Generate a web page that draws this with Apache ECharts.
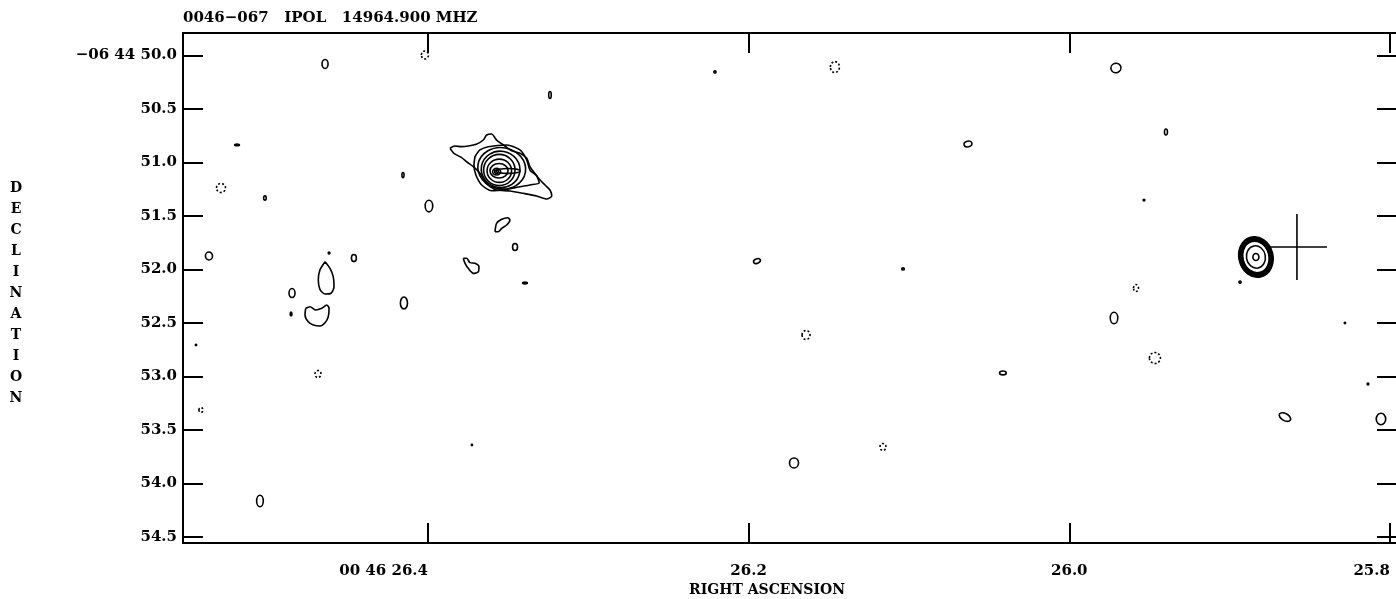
<!DOCTYPE html>
<html>
<head>
<meta charset="utf-8">
<title>0046-067 IPOL 14964.900 MHZ</title>
<script src="https://cdn.jsdelivr.net/npm/echarts@6/dist/echarts.min.js"></script>
<style>
  html, body { margin: 0; padding: 0; background: #fff; }
  #map { width: 1396px; height: 599px; }
</style>
</head>
<body>
<div id="map"></div>
<script>
// Map frame: RA seconds of 00h46m, Dec arcseconds of -06d44m
const raRange = [25.7956, 26.5528];
const decRange = [49.7897, 54.5561];

const raTicks = [26.4, 26.2, 26.0, 25.8];
const raTickLabels = ['00 46 26.4', '26.2', '26.0', '25.8'];
const decTicks = [50.0, 50.5, 51.0, 51.5, 52.0, 52.5, 53.0, 53.5, 54.0, 54.5];
const decTickLabels = ['\u221206 44 50.0', '50.5', '51.0', '51.5', '52.0', '52.5', '53.0', '53.5', '54.0', '54.5'];

// Small closed contours: [RA s, Dec ", semi-axis E-W ", semi-axis N-S ", tilt deg]
const positiveContours = [
  [26.4642, 50.079, 0.028, 0.042, 0],
  [26.3239, 50.369, 0.012, 0.032, 0],
  [26.2210, 50.154, 0.010, 0.010, 0],
  [25.9709, 50.117, 0.047, 0.044, 20],
  [25.9397, 50.715, 0.014, 0.028, 0],
  [26.0632, 50.827, 0.037, 0.026, 15],
  [25.9534, 51.351, 0.008, 0.008, 0],
  [26.1948, 51.921, 0.033, 0.021, 20],
  [26.1037, 51.995, 0.012, 0.010, 0],
  [25.9721, 52.453, 0.035, 0.054, 0],
  [26.0414, 52.967, 0.031, 0.018, 0],
  [25.8935, 52.117, 0.010, 0.010, 0],
  [25.8281, 52.500, 0.006, 0.006, 0],
  [25.8137, 53.070, 0.008, 0.008, 0],
  [25.8056, 53.397, 0.044, 0.054, 0],
  [25.8655, 53.379, 0.058, 0.033, -30],
  [26.1717, 53.808, 0.042, 0.047, 0],
  [26.3726, 53.640, 0.005, 0.005, 0],
  [26.5048, 54.164, 0.031, 0.054, 0],
  [26.5447, 52.706, 0.006, 0.006, 0],
  [26.5191, 50.836, 0.022, 0.008, 0],
  [26.5017, 51.332, 0.012, 0.020, 0],
  [26.4156, 51.117, 0.010, 0.024, 0],
  [26.3994, 51.407, 0.035, 0.054, 0],
  [26.3457, 51.790, 0.023, 0.033, 0],
  [26.3395, 52.126, 0.022, 0.008, 0],
  [26.5366, 51.874, 0.033, 0.037, 0],
  [26.4617, 51.846, 0.008, 0.008, 0],
  [26.4462, 51.893, 0.023, 0.033, 0],
  [26.4848, 52.220, 0.028, 0.042, 0],
  [26.4854, 52.416, 0.008, 0.019, 0],
  [26.4150, 52.313, 0.033, 0.056, 0]
];

const negativeContours = [
  [26.4019, 49.995, 0.033, 0.037, 0],
  [26.1462, 50.108, 0.042, 0.051, 0],
  [26.5291, 51.238, 0.042, 0.042, 0],
  [26.1642, 52.612, 0.037, 0.042, 0],
  [25.9584, 52.173, 0.023, 0.033, 0],
  [25.9466, 52.827, 0.051, 0.051, 0],
  [26.1162, 53.659, 0.028, 0.033, 0],
  [26.4686, 52.977, 0.028, 0.033, 0],
  [26.5416, 53.313, 0.019, 0.023, 0]
];

// Inner levels of the extended source
const mainSourceRings = [
  [26.3540, 51.054, 0.223, 0.193, -10],
  [26.3547, 51.064, 0.180, 0.170, -10],
  [26.3555, 51.070, 0.146, 0.146, 0],
  [26.3555, 51.077, 0.114, 0.109, 0],
  [26.3557, 51.077, 0.084, 0.068, 0],
  [26.3501, 51.079, 0.112, 0.023, 0],
  [26.3572, 51.086, 0.037, 0.031, 0],
  [26.3572, 51.086, 0.018, 0.015, 0]
];

// Compact source levels
const compactSourceRings = [
  [25.8836, 51.883, 0.158, 0.191, 15],
  [25.8836, 51.883, 0.153, 0.186, 15],
  [25.8836, 51.883, 0.149, 0.181, 15],
  [25.8836, 51.883, 0.144, 0.176, 15],
  [25.8836, 51.883, 0.140, 0.172, 15],
  [25.8836, 51.883, 0.135, 0.167, 15],
  [25.8836, 51.883, 0.130, 0.163, 15],
  [25.8836, 51.883, 0.125, 0.156, 15],
  [25.8836, 51.883, 0.121, 0.149, 15],
  [25.8836, 51.883, 0.088, 0.105, 10],
  [25.8836, 51.883, 0.028, 0.033, 0]
];

// Irregular contour outlines: [RA s, Dec "]
const mainSourceOuter = [
  [26.3863, 50.867], [26.3838, 50.914], [26.3790, 50.955], [26.3759, 50.993],
  [26.3717, 51.039], [26.3676, 51.101], [26.3644, 51.179], [26.3613, 51.226],
  [26.3572, 51.257], [26.3489, 51.266], [26.3406, 51.288], [26.3322, 51.313],
  [26.3260, 51.341], [26.3228, 51.313], [26.3239, 51.257], [26.3270, 51.210],
  [26.3301, 51.164], [26.3326, 51.117], [26.3364, 51.039], [26.3384, 50.961],
  [26.3426, 50.914], [26.3478, 50.890], [26.3520, 50.846], [26.3572, 50.790],
  [26.3603, 50.734], [26.3634, 50.743], [26.3655, 50.790], [26.3696, 50.827],
  [26.3749, 50.846], [26.3790, 50.852], [26.3832, 50.846]
];
const mainSourceSecond = [
  [26.3707, 50.946], [26.3676, 50.883], [26.3624, 50.852], [26.3509, 50.836],
  [26.3426, 50.883], [26.3384, 50.977], [26.3364, 51.070], [26.3322, 51.126],
  [26.3306, 51.189], [26.3364, 51.210], [26.3426, 51.226], [26.3509, 51.250],
  [26.3603, 51.264], [26.3665, 51.210], [26.3701, 51.117], [26.3713, 51.023]
];
const teardropContour = [
  [26.4642, 51.927], [26.4674, 52.005], [26.4684, 52.098], [26.4674, 52.185],
  [26.4642, 52.229], [26.4605, 52.222], [26.4586, 52.161], [26.4591, 52.067],
  [26.4611, 51.989]
];
const heartContour = [
  [26.4763, 52.363], [26.4736, 52.348], [26.4700, 52.379], [26.4663, 52.363],
  [26.4632, 52.332], [26.4617, 52.363], [26.4622, 52.441], [26.4642, 52.497],
  [26.4674, 52.528], [26.4715, 52.519], [26.4747, 52.488], [26.4767, 52.425]
];
const southBlobContour = [
  [26.3582, 51.647], [26.3572, 51.568], [26.3540, 51.531], [26.3503, 51.516],
  [26.3489, 51.537], [26.3509, 51.584], [26.3540, 51.615], [26.3562, 51.647]
];
const beanContour = [
  [26.3780, 51.895], [26.3769, 51.942], [26.3749, 51.989], [26.3717, 52.036],
  [26.3686, 52.021], [26.3682, 51.974], [26.3707, 51.942], [26.3738, 51.936],
  [26.3759, 51.895]
];

// Position marker: [RA s, Dec ", half-length in RA s, half-length in Dec "]
const positionCross = [[25.8580, 51.790, 0.0187, 0.308]];

const FONT = 'DejaVu Serif';
const ARCSEC_PER_RA_SEC = 15 * Math.cos(6.746 * Math.PI / 180);
const INK = '#000';

const labelFont = { fontFamily: FONT, fontWeight: 'bold', fontSize: 15, color: INK };

function labelFor(ticks, labels, v) {
  const i = ticks.findIndex(t => Math.abs(t - v) < 1e-6);
  return i >= 0 ? labels[i] : '';
}

function contourSeries(data, dashed) {
  return {
    type: 'custom',
    coordinateSystem: 'cartesian2d',
    xAxisIndex: 0,
    yAxisIndex: 0,
    silent: true,
    clip: true,
    encode: { x: 0, y: 1 },
    data: data,
    renderItem(params, api) {
      const c = api.coord([api.value(0), api.value(1)]);
      const s = api.size([api.value(2) / ARCSEC_PER_RA_SEC, api.value(3)]);
      return {
        type: 'ellipse',
        x: c[0],
        y: c[1],
        rotation: api.value(4) * Math.PI / 180,
        shape: { cx: 0, cy: 0, rx: Math.max(s[0], 0.6), ry: Math.max(s[1], 0.6) },
        style: { fill: 'none', stroke: INK, lineWidth: 1.6, lineDash: dashed ? [2, 2] : null }
      };
    }
  };
}

function outlineSeries(points) {
  return {
    type: 'line',
    xAxisIndex: 0,
    yAxisIndex: 0,
    data: points.concat([points[0]]),
    symbol: 'none',
    showSymbol: false,
    smooth: 0.25,
    silent: true,
    lineStyle: { color: INK, width: 1.6 }
  };
}

const crossSeries = {
  type: 'custom',
  coordinateSystem: 'cartesian2d',
  xAxisIndex: 0,
  yAxisIndex: 0,
  silent: true,
  encode: { x: 0, y: 1 },
  data: positionCross,
  renderItem(params, api) {
    const c = api.coord([api.value(0), api.value(1)]);
    const s = api.size([api.value(2), api.value(3)]);
    const st = { stroke: INK, lineWidth: 1.6 };
    return {
      type: 'group',
      children: [
        { type: 'line', shape: { x1: c[0] - s[0], y1: c[1], x2: c[0] + s[0], y2: c[1] }, style: st },
        { type: 'line', shape: { x1: c[0], y1: c[1] - s[1], x2: c[0], y2: c[1] + s[1] }, style: st }
      ]
    };
  }
};

const frameLine = { show: true, onZero: false, lineStyle: { color: INK, width: 2 } };
const innerTicks = (vals) => ({ show: true, inside: true, length: 20, customValues: vals, lineStyle: { color: INK, width: 2 } });

const raAxisBase = { type: 'value', min: raRange[0], max: raRange[1], inverse: true, splitLine: { show: false } };
const decAxisBase = { type: 'value', min: decRange[0], max: decRange[1], inverse: true, splitLine: { show: false } };

// Interior RA labels sit centred on their ticks; the two end labels end at their ticks
const centredRa = [raTicks[1], raTicks[2]];
const endRa = [raTicks[0], raTicks[3]];

const chart = echarts.init(document.getElementById('map'), null, { renderer: 'canvas' });

chart.setOption({
  animation: false,
  backgroundColor: '#fff',
  grid: { left: 183, top: 33, width: 1214, height: 510, containLabel: false, outerBoundsMode: 'none' },
  xAxis: [
    Object.assign({}, raAxisBase, {
      position: 'bottom',
      axisLine: frameLine,
      axisTick: innerTicks(raTicks),
      axisLabel: Object.assign({
        customValues: centredRa,
        margin: 21,
        formatter: v => labelFor(raTicks, raTickLabels, v)
      }, labelFont)
    }),
    Object.assign({}, raAxisBase, {
      position: 'bottom',
      axisLine: { show: false },
      axisTick: { show: false },
      axisLabel: Object.assign({
        customValues: endRa,
        margin: 21,
        align: 'right',
        formatter: v => labelFor(raTicks, raTickLabels, v)
      }, labelFont)
    }),
    Object.assign({}, raAxisBase, {
      position: 'top',
      axisLine: frameLine,
      axisTick: innerTicks(raTicks),
      axisLabel: { show: false }
    })
  ],
  yAxis: [
    Object.assign({}, decAxisBase, {
      position: 'left',
      axisLine: frameLine,
      axisTick: innerTicks(decTicks),
      axisLabel: Object.assign({
        customValues: decTicks,
        margin: 6,
        formatter: v => labelFor(decTicks, decTickLabels, v)
      }, labelFont)
    }),
    Object.assign({}, decAxisBase, {
      position: 'right',
      axisLine: frameLine,
      axisTick: innerTicks(decTicks),
      axisLabel: { show: false }
    })
  ],
  graphic: [
    {
      type: 'text', x: 183, y: 18,
      style: { text: '0046\u2212067   IPOL   14964.900 MHZ', font: 'bold 15px "DejaVu Serif"', fill: INK, textAlign: 'left', textVerticalAlign: 'middle' }
    },
    {
      type: 'text', x: 767, y: 590,
      style: { text: 'RIGHT ASCENSION', font: 'bold 14px "DejaVu Serif"', fill: INK, textAlign: 'center', textVerticalAlign: 'middle' }
    },
    {
      type: 'text', x: 16, y: 293,
      style: { text: 'DECLINATION'.split('').join('\n'), font: 'bold 14px "DejaVu Serif"', lineHeight: 21, fill: INK, textAlign: 'center', textVerticalAlign: 'middle' }
    }
  ],
  series: [
    contourSeries(positiveContours, false),
    contourSeries(negativeContours, true),
    contourSeries(mainSourceRings, false),
    contourSeries(compactSourceRings, false),
    outlineSeries(mainSourceOuter),
    outlineSeries(mainSourceSecond),
    outlineSeries(teardropContour),
    outlineSeries(heartContour),
    outlineSeries(southBlobContour),
    outlineSeries(beanContour),
    crossSeries
  ]
});
</script>
</body>
</html>
